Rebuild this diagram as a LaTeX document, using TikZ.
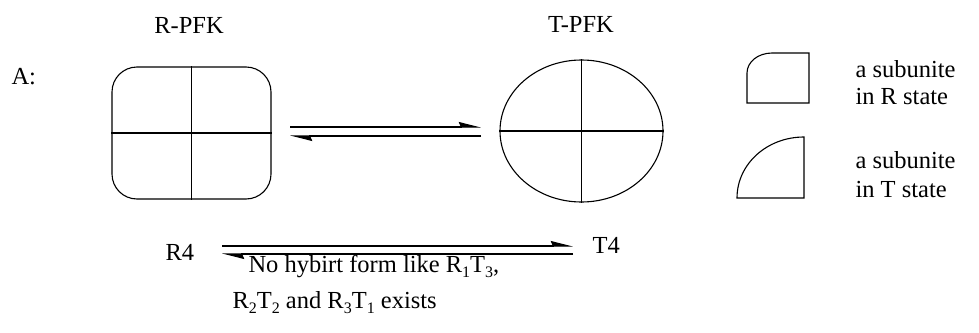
\documentclass[tikz,border=0pt]{standalone}
\usepackage{fontspec}
\setmainfont{Liberation Serif}
\usetikzlibrary{shapes.geometric,arrows.meta}
\newcommand{\lsub}[1]{\raisebox{-0.45ex}{\fontsize{16}{16}\selectfont #1}}
\begin{document}
\begin{tikzpicture}[x=1pt,y=-1pt,line width=1.1pt,
  lbl/.style={inner sep=0pt,font=\fontsize{24.5}{28}\selectfont},
  harp/.style={-{Stealth[harpoon,length=20pt,width=10pt,inset=2pt]}}]
\useasboundingbox (0,0) rectangle (979,332);
% titles
\node[lbl,anchor=base] (rt) at (189,33) {R-PFK};
\node[lbl,anchor=base] (tt) at (581,32) {T-PFK};
\node[lbl,anchor=base west] (A) at (11,84) {A:};
% R-PFK
\node[draw,rounded corners=25pt,minimum width=159pt,minimum height=132pt,inner sep=0pt] (R) at (191.5,133) {};
\draw (R.north) -- (R.south);
\draw (R.west) -- (R.east);
% T-PFK
\node[draw,ellipse,minimum width=163pt,minimum height=142pt,inner sep=0pt] (T) at (581.5,131) {};
\draw (T.north) -- (T.south);
\draw (T.west) -- (T.east);
% equilibrium arrows
\coordinate (a1) at (290,127);
\coordinate (a2) at (481,127);
\coordinate (b1) at (290,136);
\coordinate (b2) at (481,136);
\draw[harp] (a1) -- (a2);
\draw[harp] (b2) -- (b1);
% legend
\draw (809,103) -- (747,103) -- (747,73) .. controls (747,62) and (758,53) .. (772,53) -- (809,53) -- cycle;
\draw (804,198) -- (737,198) .. controls (737,164) and (767,137) .. (804,137) -- cycle;
\node[lbl,anchor=base west] (l1) at (855,77) {a subunite};
\node[lbl,anchor=base west] (l2) at (855,104) {in R state};
\node[lbl,anchor=base west] (l3) at (855,168) {a subunite};
\node[lbl,anchor=base west] (l4) at (855,197) {in T state};
% bottom
\node[lbl,anchor=base west] (R4) at (165,260) {R4};
\node[lbl,anchor=base west] (T4) at (592,253) {T4};
\coordinate (c1) at (222,246);
\coordinate (c2) at (573,246);
\coordinate (d1) at (222,254);
\coordinate (d2) at (573,254);
\draw[harp] (c1) -- (c2);
\draw[harp] (d2) -- (d1);
\node[lbl,anchor=base west] (n1) at (248,272) {No hybirt form like R\lsub{1}T\lsub{3},};
\node[lbl,anchor=base west] (n2) at (232,308) {R\lsub{2}T\lsub{2} and R\lsub{3}T\lsub{1} exists};
\end{tikzpicture}
\end{document}
